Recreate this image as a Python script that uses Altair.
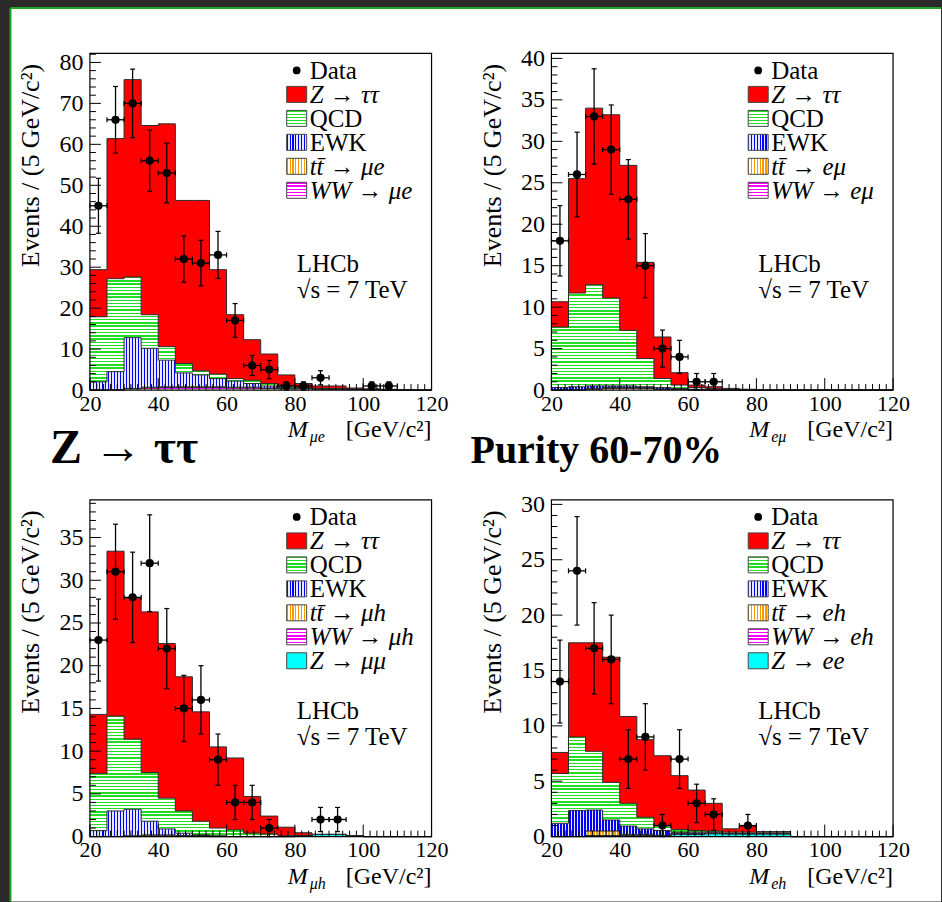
import math
import altair as alt
import numpy as np
import pandas as pd

FONT = "Liberation Serif"
W, H = 342, 337

EDGES = list(range(20, 121, 5))          # bin edges, 5 GeV bins
CENTERS = [e + 2.5 for e in EDGES[:-1]]  # bin centres

# ---------------- panel 1 : mu e ----------------
data_mue = [45, 66, 70, 56, 53, 32, 31, 33, 17, 6, 5, 1, 1, 3, 0, 0, 1, 1, 0, 0]
ztt_mue = [11.5, 34.2, 48.2, 46.2, 54.4, 39.8, 41.6, 25.5, 15.6, 9.9, 7.2, 2.7, 1.0, 0.6, 0.7, 0.3, 0.2, 0.2, 0.1, 0]
qcd_mue = [15.9, 22.7, 14.8, 8.2, 3.3, 2.3, 1.0, 1.1, 0.6, 0.8, 0.6, 0.3, 0.1, 0, 0, 0, 0, 0, 0, 0]
ewk_mue = [2.0, 4.4, 12.4, 9.5, 6.5, 3.4, 2.9, 2.0, 1.5, 0.9, 0.5, 0.3, 0.1, 0.1, 0, 0, 0, 0, 0, 0]
tt_mue = [0, 0.1, 0.1, 0.2, 0.2, 0.2, 0.2, 0.2, 0.2, 0.2, 0.1, 0.1, 0.1, 0.1, 0.1, 0.1, 0, 0, 0, 0]
ww_mue = [0, 0, 0.3, 0.5, 0.6, 0.6, 0.6, 0.6, 0.5, 0.5, 0.4, 0.3, 0.3, 0.2, 0.2, 0.1, 0.1, 0, 0, 0]

# ---------------- panel 2 : e mu ----------------
data_emu = [18, 26, 33, 29, 23, 15, 5, 4, 1, 1, 0, 0, 0, 0, 0, 0, 0, 0, 0, 0]
ztt_emu = [3.05, 13.8, 21.3, 22.1, 19.9, 11.6, 5.0, 1.5, 0.3, 0.2, 0.1, 0.1, 0, 0, 0, 0, 0, 0, 0, 0]
qcd_emu = [7.3, 11.3, 12.2, 10.6, 6.7, 3.4, 1.1, 0.4, 0.2, 0.2, 0.1, 0, 0, 0, 0, 0, 0, 0, 0, 0]
ewk_emu = [0.3, 0.4, 0.3, 0.2, 0.2, 0.1, 0.2, 0.1, 0.1, 0, 0, 0, 0, 0, 0, 0, 0, 0, 0, 0]
tt_emu = [0, 0, 0.1, 0.1, 0.1, 0.1, 0, 0, 0, 0, 0, 0, 0, 0, 0, 0, 0, 0, 0, 0]
ww_emu = [0, 0, 0.1, 0.2, 0.2, 0.2, 0.1, 0.1, 0, 0, 0, 0, 0, 0, 0, 0, 0, 0, 0, 0]

# ---------------- panel 3 : mu h ----------------
data_muh = [23, 31, 28, 32, 22, 15, 16, 9, 4, 4, 1, 0, 0, 2, 2, 0, 0, 0, 0, 0]
ztt_muh = [6.9, 19.3, 16.5, 18.8, 18.1, 15.7, 12.8, 9.5, 8.4, 4.3, 2.1, 1.0, 0.35, 0, 0, 0, 0, 0, 0, 0]
qcd_muh = [6.7, 11.1, 8.2, 5.7, 3.6, 2.6, 1.6, 0.9, 0.8, 0.4, 0.3, 0.1, 0, 0, 0, 0, 0, 0, 0, 0]
ewk_muh = [0.7, 3.0, 3.1, 1.6, 0.7, 0.3, 0.1, 0.1, 0, 0, 0, 0, 0, 0, 0, 0, 0, 0, 0, 0]
tt_muh = [0, 0, 0.1, 0.1, 0.1, 0, 0, 0, 0, 0, 0, 0, 0, 0, 0, 0, 0, 0, 0, 0]
ww_muh = [0, 0, 0, 0.1, 0.1, 0.1, 0.1, 0, 0, 0, 0, 0, 0, 0, 0, 0, 0, 0, 0, 0]
zll_muh = [0, 0, 0, 0, 0, 0, 0, 0, 0, 0, 0, 0, 0.1, 0.25, 0.25, 0.1, 0, 0, 0, 0]

# ---------------- panel 4 : e h ----------------
data_eh = [14, 24, 17, 16, 7, 9, 1, 7, 3, 2, 0, 1, 0, 0, 0, 0, 0, 0, 0, 0]
ztt_eh = [1.9, 8.5, 9.8, 11.3, 7.85, 7.0, 6.35, 4.85, 3.65, 2.5, 0.3, 0.55, 0.05, 0.05, 0, 0, 0, 0, 0, 0]
qcd_eh = [4.5, 6.65, 5.3, 3.4, 2.05, 1.05, 0.4, 0.25, 0.15, 0.1, 0.1, 0.1, 0.1, 0.1, 0, 0, 0, 0, 0, 0]
ewk_eh = [1.2, 2.35, 1.9, 1.0, 0.75, 0.5, 0.45, 0.1, 0.15, 0.1, 0.05, 0.05, 0.05, 0.05, 0, 0, 0, 0, 0, 0]
tt_eh = [0, 0, 0.4, 0.4, 0.1, 0.1, 0, 0, 0, 0, 0, 0, 0, 0, 0, 0, 0, 0, 0, 0]
ww_eh = [0, 0, 0.1, 0.1, 0.1, 0.1, 0.1, 0.1, 0.05, 0.05, 0, 0, 0, 0, 0, 0, 0, 0, 0, 0]
zll_eh = [0, 0, 0, 0, 0, 0, 0, 0.2, 0.2, 0.25, 0.25, 0.25, 0.25, 0.25, 0, 0, 0, 0, 0, 0]

X_LABELS = [20, 40, 60, 80, 100, 120]

PANELS = [
    dict(ymax=82.2, major=[0, 10, 20, 30, 40, 50, 60, 70, 80], minor=2, data=data_mue, sub="μe",
         comps=dict(ww=ww_mue, tt=tt_mue, ewk=ewk_mue, qcd=qcd_mue, ztt=ztt_mue),
         labels=dict(tt="tt̄ → μe", ww="WW → μe")),
    dict(ymax=40.6, major=[0, 5, 10, 15, 20, 25, 30, 35, 40], minor=1, data=data_emu, sub="eμ",
         comps=dict(ww=ww_emu, tt=tt_emu, ewk=ewk_emu, qcd=qcd_emu, ztt=ztt_emu),
         labels=dict(tt="tt̄ → eμ", ww="WW → eμ")),
    dict(ymax=39.4, major=[0, 5, 10, 15, 20, 25, 30, 35], minor=1, data=data_muh, sub="μh",
         comps=dict(zll=zll_muh, ww=ww_muh, tt=tt_muh, ewk=ewk_muh, qcd=qcd_muh, ztt=ztt_muh),
         labels=dict(tt="tt̄ → μh", ww="WW → μh", zll="Z → μμ")),
    dict(ymax=30.4, major=[0, 5, 10, 15, 20, 25, 30], minor=1, data=data_eh, sub="eh",
         comps=dict(zll=zll_eh, ww=ww_eh, tt=tt_eh, ewk=ewk_eh, qcd=qcd_eh, ztt=ztt_eh),
         labels=dict(tt="tt̄ → eh", ww="WW → eh", zll="Z → ee")),
]

STYLE = {
    "zll": dict(kind="solid", color="#00ffff"),
    "ww": dict(kind="h", color="#ff00ff", gap="#ffffff"),
    "tt": dict(kind="v", color="#ff9900", gap="#ffffff"),
    "ewk": dict(kind="v", color="#0000ff", gap="#e6e6ff"),
    "qcd": dict(kind="h", color="#22dd22", gap="#ffffff"),
    "ztt": dict(kind="solid", color="#ff0000"),
}
BASE_LABELS = dict(ztt="Z → ττ", qcd="QCD", ewk="EWK")
ITALIC = {"ztt", "tt", "ww", "zll"}
STACK_ORDER = ["zll", "ww", "tt", "ewk", "qcd", "ztt"]
LEGEND_ORDER = ["ztt", "qcd", "ewk", "tt", "ww", "zll"]


def hatch(color, gap, n, vertical, frac=0.42):
    stops = []
    for i in range(n):
        a = round(i / n, 5)
        b = round((i + frac) / n, 5)
        c = round((i + 1) / n, 5)
        stops += [alt.GradientStop(color=color, offset=a), alt.GradientStop(color=color, offset=b),
                  alt.GradientStop(color=gap, offset=b), alt.GradientStop(color=gap, offset=c)]
    if vertical:
        return alt.LinearGradient(gradient="linear", stops=stops, x1=0, x2=1, y1=0, y2=0)
    return alt.LinearGradient(gradient="linear", stops=stops, x1=0, x2=0, y1=0, y2=1)


def fill_for(key, w_px, h_px):
    st = STYLE[key]
    if st["kind"] == "solid":
        return st["color"]
    if st["kind"] == "v":
        return hatch(st["color"], st["gap"], max(1, round(w_px / 3.0)), True)
    return hatch(st["color"], st["gap"], max(1, round(h_px / 3.2)), False)


def build_panel(idx, P):
    ymax = P["ymax"]
    ppu = H / ymax

    def ydat(px):
        return ymax * (1 - px / H)

    def xdat(px):
        return 20 + px / W * 100

    xs = alt.Scale(domain=[20, 120], nice=False, zero=False)
    ys = alt.Scale(domain=[0, ymax], nice=False, zero=False)
    xaxis = alt.Axis(values=X_LABELS, ticks=False, tickSize=0, domain=False, grid=False,
                     labelFont=FONT, labelFontSize=22, labelColor="black", labelPadding=3,
                     labelFlush=False, labelOverlap=False, title="", zindex=1)
    yaxis = alt.Axis(values=P["major"], ticks=False, tickSize=0, domain=False, grid=False,
                     labelFont=FONT, labelFontSize=24, labelColor="black", labelPadding=7,
                     labelFlush=False, labelOverlap=False,
                     title="Events / (5 GeV/c²)", titleFont=FONT, titleFontSize=26,
                     titleFontWeight="normal", titleColor="black", titleAngle=270,
                     titleAlign="right", titleBaseline="middle", titleX=-59, titleY=10, zindex=1)

    def X(f):
        return alt.X(f, type="quantitative", scale=xs, axis=xaxis)

    def Y(f):
        return alt.Y(f, type="quantitative", scale=ys, axis=yaxis)

    layers = []
    one = pd.DataFrame({"k": [0]})

    if idx == 0:
        ox, oy = 90, 53
        layers.append(alt.Chart(one).mark_rect(fill="#2a2a2a", strokeWidth=0).encode(
            x=alt.value(-ox), x2=alt.value(942 - ox), y=alt.value(-oy), y2=alt.value(902 - oy)))
        layers.append(alt.Chart(one).mark_rect(fill="white", strokeWidth=0).encode(
            x=alt.value(11 - ox), x2=alt.value(942 - ox), y=alt.value(8 - oy), y2=alt.value(902 - oy)))
        layers.append(alt.Chart(one).mark_rule(color="#1fa51f", strokeWidth=2).encode(
            x=alt.value(10.5 - ox), y=alt.value(7.5 - oy), y2=alt.value(902 - oy)))
        layers.append(alt.Chart(one).mark_rule(color="#1fa51f", strokeWidth=2).encode(
            x=alt.value(10.5 - ox), x2=alt.value(942 - ox), y=alt.value(7.5 - oy)))
        big = pd.DataFrame({"t": ["Z → ττ"]})
        layers.append(alt.Chart(big).mark_text(font=FONT, fontWeight="bold", fontSize=48, align="left",
                                               baseline="alphabetic", color="black").encode(
            x=alt.value(50 - ox), y=alt.value(463 - oy), text="t"))
        big2 = pd.DataFrame({"t": ["Purity 60-70%"]})
        layers.append(alt.Chart(big2).mark_text(font=FONT, fontWeight="bold", fontSize=40, align="left",
                                                baseline="alphabetic", color="black").encode(
            x=alt.value(471 - ox), y=alt.value(463 - oy), text="t"))

    # stacked histograms
    cum = np.zeros(20)
    stack_dfs = []
    for key in STACK_ORDER:
        if key not in P["comps"]:
            continue
        v = np.array(P["comps"][key], dtype=float)
        lo = cum.copy()
        hi = cum + v
        cum = hi
        df = pd.DataFrame({"x": EDGES, "lo": list(lo) + [lo[-1]], "hi": list(hi) + [hi[-1]]})
        h_px = (df["hi"].max() - df["lo"].min()) * ppu
        fill = fill_for(key, W, h_px)
        layers.append(alt.Chart(df).mark_area(interpolate="step-after", fill=fill, fillOpacity=1).encode(
            x=X("x"), y=Y("hi"), y2="lo"))
        stack_dfs.append(df)
    for df in stack_dfs:
        layers.append(alt.Chart(df).mark_line(interpolate="step-after", color="#2a2a2a", strokeWidth=1).encode(
            x=X("x"), y=Y("hi")))

    # ticks (inside the frame)
    xmaj = pd.DataFrame({"v": X_LABELS})
    xmin = pd.DataFrame({"v": [v for v in range(20, 121, 2) if v not in X_LABELS]})
    layers.append(alt.Chart(xmaj).mark_rule(color="black", strokeWidth=1).encode(
        x=X("v"), y=alt.value(H), y2=alt.value(H - 12)))
    layers.append(alt.Chart(xmin).mark_rule(color="black", strokeWidth=1).encode(
        x=X("v"), y=alt.value(H), y2=alt.value(H - 6)))
    ymaj = pd.DataFrame({"v": P["major"]})
    step = P["minor"]
    ymin_vals = [round(i * step, 3) for i in range(int(ymax / step) + 1) if round(i * step, 3) not in P["major"]]
    ymin = pd.DataFrame({"v": ymin_vals})
    layers.append(alt.Chart(ymaj).mark_rule(color="black", strokeWidth=1).encode(
        y=Y("v"), x=alt.value(0), x2=alt.value(11)))
    layers.append(alt.Chart(ymin).mark_rule(color="black", strokeWidth=1).encode(
        y=Y("v"), x=alt.value(0), x2=alt.value(6)))

    # frame
    frame = pd.DataFrame({"x0": [20], "x1": [120], "y0": [0], "y1": [ymax]})
    layers.append(alt.Chart(frame).mark_rect(fillOpacity=0, stroke="black", strokeWidth=1.2).encode(
        x=X("x0"), x2="x1", y=Y("y0"), y2="y1"))

    # data points with errors
    d = pd.DataFrame({"c": CENTERS, "n": P["data"]})
    d = d[d["n"] > 0].copy()
    d["e"] = np.sqrt(d["n"])
    d["lo"] = d["n"] - d["e"]
    d["hi"] = d["n"] + d["e"]
    d["xl"] = d["c"] - 2.5
    d["xh"] = d["c"] + 2.5
    layers.append(alt.Chart(d).mark_rule(color="black", strokeWidth=1.3).encode(x=X("c"), y=Y("lo"), y2="hi"))
    layers.append(alt.Chart(d).mark_rule(color="black", strokeWidth=1.3).encode(x=X("xl"), x2="xh", y=Y("n")))
    layers.append(alt.Chart(d).mark_tick(orient="horizontal", size=5, thickness=1.2, color="black", opacity=1).encode(
        x=X("c"), y=Y("lo")))
    layers.append(alt.Chart(d).mark_tick(orient="horizontal", size=5, thickness=1.2, color="black", opacity=1).encode(
        x=X("c"), y=Y("hi")))
    layers.append(alt.Chart(d).mark_tick(orient="vertical", size=5, thickness=1.2, color="black", opacity=1).encode(
        x=X("xl"), y=Y("n")))
    layers.append(alt.Chart(d).mark_tick(orient="vertical", size=5, thickness=1.2, color="black", opacity=1).encode(
        x=X("xh"), y=Y("n")))
    layers.append(alt.Chart(d).mark_circle(size=68, color="black", opacity=1).encode(x=X("c"), y=Y("n")))

    # legend
    keys = [k for k in LEGEND_ORDER if k in P["comps"]]
    rows_up, rows_it = [], []
    rows_up.append(dict(x=xdat(220), y=ydat(17 + 8.5), t="Data"))
    for i, key in enumerate(keys, start=1):
        cy = 17 + 24 * i
        box = pd.DataFrame({"x0": [xdat(197)], "x1": [xdat(217)], "y0": [ydat(cy + 8)], "y1": [ydat(cy - 8)]})
        layers.append(alt.Chart(box).mark_rect(fill=fill_for(key, 20, 16), stroke="#444444", strokeWidth=1).encode(
            x=X("x0"), x2="x1", y=Y("y0"), y2="y1"))
        label = P["labels"].get(key, BASE_LABELS.get(key))
        row = dict(x=xdat(220), y=ydat(cy + 8.5), t=label)
        (rows_it if key in ITALIC else rows_up).append(row)
    layers.append(alt.Chart(pd.DataFrame(rows_up)).mark_text(
        font=FONT, fontSize=25, align="left", baseline="alphabetic", color="black").encode(
        x=X("x"), y=Y("y"), text="t"))
    layers.append(alt.Chart(pd.DataFrame(rows_it)).mark_text(
        font=FONT, fontSize=25, fontStyle="italic", align="left", baseline="alphabetic", color="black").encode(
        x=X("x"), y=Y("y"), text="t"))
    dot = pd.DataFrame({"x": [xdat(207)], "y": [ydat(17)]})
    layers.append(alt.Chart(dot).mark_circle(size=60, color="black", opacity=1).encode(x=X("x"), y=Y("y")))

    # LHCb label
    lh = pd.DataFrame({"x": [xdat(207), xdat(207)], "y": [ydat(219), ydat(245)], "t": ["LHCb", "√s = 7 TeV"]})
    layers.append(alt.Chart(lh).mark_text(font=FONT, fontSize=25, align="left", baseline="alphabetic",
                                          color="black").encode(x=X("x"), y=Y("y"), text="t"))

    # x-axis title pieces
    m = pd.DataFrame({"x": [xdat(198)], "y": [ydat(H + 47)], "t": ["M"]})
    layers.append(alt.Chart(m).mark_text(font=FONT, fontSize=24, fontStyle="italic", align="left",
                                         baseline="alphabetic", color="black").encode(x=X("x"), y=Y("y"), text="t"))
    s = pd.DataFrame({"x": [xdat(220)], "y": [ydat(H + 52)], "t": [P["sub"]]})
    layers.append(alt.Chart(s).mark_text(font=FONT, fontSize=16, fontStyle="italic", align="left",
                                         baseline="alphabetic", color="black").encode(x=X("x"), y=Y("y"), text="t"))
    g = pd.DataFrame({"x": [xdat(W)], "y": [ydat(H + 47)], "t": ["[GeV/c²]"]})
    layers.append(alt.Chart(g).mark_text(font=FONT, fontSize=24, align="right",
                                         baseline="alphabetic", color="black").encode(x=X("x"), y=Y("y"), text="t"))

    return alt.layer(*layers).properties(width=W, height=H)


panels = [build_panel(i, P) for i, P in enumerate(PANELS)]

chart = alt.concat(
    *panels, columns=2, spacing={"row": 110, "column": 120}, bounds="flush",
    padding=0, background="#2a2a2a",
).configure_view(strokeWidth=0)

chart.save("out.html", embed_options={"renderer": "svg", "actions": False})
